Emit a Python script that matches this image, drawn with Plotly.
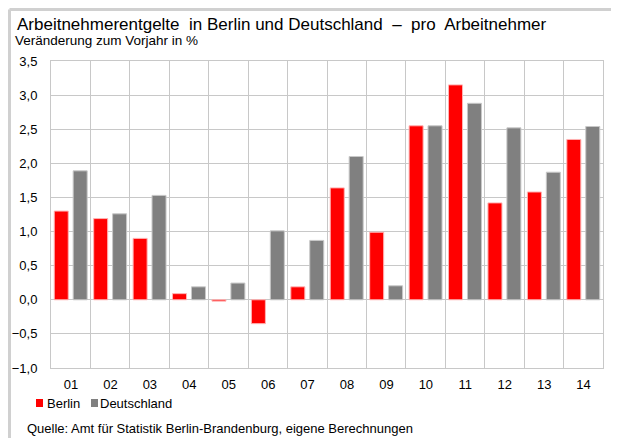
import plotly.graph_objects as go

years = ["01", "02", "03", "04", "05", "06", "07", "08", "09", "10", "11", "12", "13", "14"]
berlin = [1.30, 1.19, 0.90, 0.09, -0.02, -0.35, 0.19, 1.64, 0.99, 2.55, 3.15, 1.42, 1.58, 2.35]
deutschland = [1.89, 1.26, 1.53, 0.19, 0.245, 1.01, 0.87, 2.10, 0.205, 2.55, 2.88, 2.52, 1.87, 2.54]
y_ticks = [-1.0, -0.5, 0.0, 0.5, 1.0, 1.5, 2.0, 2.5, 3.0, 3.5]

title = "Arbeitnehmerentgelte  in Berlin und Deutschland  –  pro  Arbeitnehmer"
subtitle = "Veränderung zum Vorjahr in %"
source = "Quelle: Amt für Statistik Berlin-Brandenburg, eigene Berechnungen"

# the page places the figure at (8, 8)
OFFX, OFFY = 8, 8
W, H = 611, 430
L, T, B = 51 - OFFX, 61 - OFFY, 70
R = OFFX + W - 603
PW, PH = W - L - R, H - T - B


def px(x):
    return (x - OFFX - L) / PW


def py(y):
    return (H - B - (y - OFFY)) / PH


FONT = "Liberation Sans, Arial, sans-serif"
GRID = "#c8c8c8"

n = len(years)
idx = list(range(n))
bounds = [i - 0.5 for i in range(n + 1)]

fig = go.Figure()
fig.add_trace(go.Bar(x=idx, y=berlin, name="Berlin",
                     marker=dict(color="#ff0000", line=dict(color="#ffb3b3", width=1)), showlegend=False))
fig.add_trace(go.Bar(x=idx, y=deutschland, name="Deutschland",
                     marker=dict(color="#808080", line=dict(color="#c8c8c8", width=1)), showlegend=False))

fig.update_layout(
    template="none",
    width=W, height=H,
    margin=dict(l=L, r=R, t=T, b=B, pad=0, autoexpand=False),
    paper_bgcolor="white", plot_bgcolor="white",
    barmode="group", bargap=0.04, bargroupgap=0.26,
    separators=",.",
    font=dict(family=FONT, size=13, color="#000000"),
    xaxis=dict(range=[-0.5, n - 0.5], tickmode="array", tickvals=bounds, ticktext=years + [""],
               ticklabelshift=int(round(PW / n / 2)), automargin=False,
               showgrid=True, gridcolor=GRID, gridwidth=1,
               showline=True, linecolor=GRID, linewidth=1, mirror=True, ticks="", zeroline=False,
               tickfont=dict(size=13), ticklabelstandoff=4),
    yaxis=dict(range=[-1.0, 3.5], tickvals=y_ticks, tickformat=".1f", automargin=False,
               showgrid=True, gridcolor=GRID, gridwidth=1,
               zeroline=True, zerolinecolor=GRID, zerolinewidth=1,
               showline=True, linecolor=GRID, linewidth=1, mirror=True, ticks="",
               tickfont=dict(size=13), ticklabelstandoff=10),
)

# frame lines (top and left), drawn at the figure's edge
fig.add_shape(type="line", xref="paper", yref="paper", x0=px(OFFX + 1.5), x1=px(619), y0=py(OFFY + 1.5), y1=py(OFFY + 1.5),
              line=dict(color="#d0d0d0", width=3))
fig.add_shape(type="line", xref="paper", yref="paper", x0=px(OFFX + 1.5), x1=px(OFFX + 1.5), y0=py(OFFY + 1.5), y1=py(438),
              line=dict(color="#d0d0d0", width=3))

# legend squares
fig.add_shape(type="rect", xref="paper", yref="paper", x0=px(36), x1=px(43), y0=py(399), y1=py(407),
              fillcolor="#ff0000", line=dict(width=0))
fig.add_shape(type="rect", xref="paper", yref="paper", x0=px(91), x1=px(98), y0=py(399), y1=py(407),
              fillcolor="#808080", line=dict(width=0))

ann = [
    (title, 16, 24.8, 17),
    (subtitle, 14, 40.7, 13.5),
    ("Berlin", 46, 403.5, 13),
    ("Deutschland", 99, 403.5, 13),
    (source, 26, 428.5, 13),
]
for text, x, y, s in ann:
    fig.add_annotation(text=text, xref="paper", yref="paper", x=px(x), y=py(y), xanchor="left", yanchor="middle",
                       showarrow=False, borderpad=0, font=dict(family=FONT, size=s, color="#000000"))

fig.write_html("out.html")
